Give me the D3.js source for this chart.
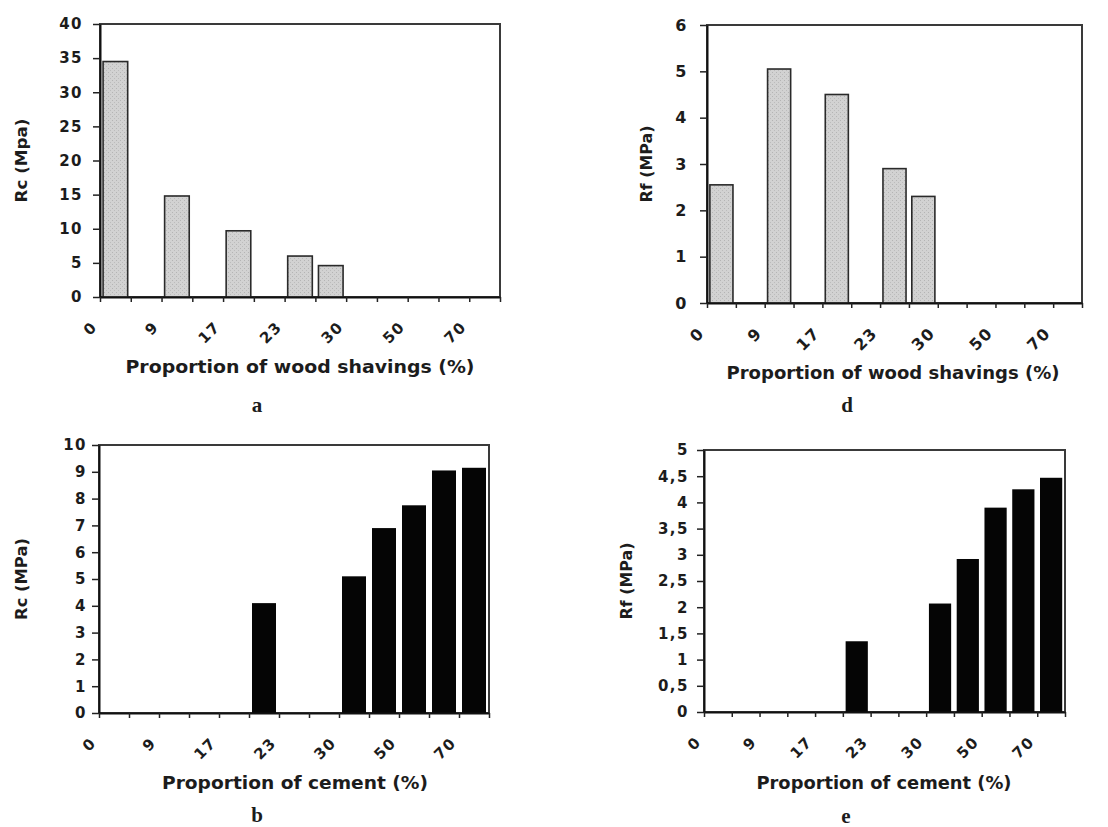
<!DOCTYPE html>
<html>
<head>
<meta charset="utf-8">
<script src="https://cdn.jsdelivr.net/npm/d3@7"></script>
<style>
  body { margin: 0; background: #fff; }
  svg { display: block; }
  .tick text { font-family: "DejaVu Sans", sans-serif; font-weight: bold; fill: #1c1c1c; }
  .title { font-family: "DejaVu Sans", sans-serif; font-weight: bold; fill: #1c1c1c; }
  .letter { font-family: "Liberation Serif", "DejaVu Serif", serif; font-weight: bold; fill: #1c1c1c; }
</style>
</head>
<body>
<svg id="fig" width="1108" height="827"></svg>
<script>
// Category slots along each x axis; a label is printed on every second slot boundary.
const slotCount = 13;
const xTickLabels = ["0", "9", "17", "23", "30", "50", "70"];

// Wood-shavings series (slot index, strength in MPa)
const woodSlots = [0, 2, 4, 6, 7];
const rcWood = [34.5, 14.8, 9.7, 6.0, 4.6];
const rfWood = [2.55, 5.05, 4.5, 2.9, 2.3];

// Cement series (slot index, strength in MPa)
const cementSlots = [5, 8, 9, 10, 11, 12];
const rcCement = [4.1, 5.1, 6.9, 7.75, 9.05, 9.15];
const rfCement = [1.35, 2.07, 2.92, 3.9, 4.25, 4.47];

const yTitles = ["Rc (Mpa)", "Rf (MPa)", "Rc (MPa)", "Rf (MPa)"];
const xTitles = ["Proportion of wood shavings (%)", "Proportion of cement (%)"];
const panelLetters = ["a", "d", "b", "e"];

const svg = d3.select("#fig");
svg.append("rect").attr("width", 1108).attr("height", 827).attr("fill", "#fff");

// light stippled fill for the wood-shavings bars
const defs = svg.append("defs");
const pat = defs.append("pattern").attr("id", "stipple")
  .attr("width", 4).attr("height", 4).attr("patternUnits", "userSpaceOnUse");
pat.append("rect").attr("width", 4).attr("height", 4).attr("fill", "#d2d2d2");
pat.append("rect").attr("x", 0).attr("y", 0).attr("width", 1).attr("height", 1).attr("fill", "#b4b4b4");
pat.append("rect").attr("x", 2).attr("y", 2).attr("width", 1).attr("height", 1).attr("fill", "#bcbcbc");

const commaFmt = v => String(+v.toFixed(1)).replace(".", ",");

const panels = [
  { slots: woodSlots, values: rcWood, yMax: 40, yStep: 5, x0: 100, x1: 500, yt: 24, yb: 297,
    pad: 10, fs: 15, fill: "url(#stipple)", stroke: "#2a2a2a",
    yTitle: yTitles[0], yTitleX: 22, yTitleLen: 84,
    xTitle: xTitles[0], xTitleX: 300, xTitleY: 367, xTitleLen: 349,
    letter: panelLetters[0], lx: 257, ly: 412 },
  { slots: woodSlots, values: rfWood, yMax: 6, yStep: 1, x0: 707, x1: 1082, yt: 25, yb: 303,
    pad: 12, fs: 16, fill: "url(#stipple)", stroke: "#2a2a2a",
    yTitle: yTitles[1], yTitleX: 647, yTitleLen: 77,
    xTitle: xTitles[0], xTitleX: 893, xTitleY: 373, xTitleLen: 333,
    letter: panelLetters[1], lx: 847, ly: 412 },
  { slots: cementSlots, values: rcCement, yMax: 10, yStep: 1, x0: 99, x1: 489, yt: 445, yb: 713,
    pad: 5, fs: 15, fill: "#050505", stroke: "none",
    yTitle: yTitles[2], yTitleX: 22, yTitleLen: 82,
    xTitle: xTitles[1], xTitleX: 295, xTitleY: 783, xTitleLen: 266,
    letter: panelLetters[2], lx: 257, ly: 822 },
  { slots: cementSlots, values: rfCement, yMax: 5, yStep: 0.5, x0: 704, x1: 1065, yt: 450, yb: 712,
    pad: 8, fs: 15, fill: "#050505", stroke: "none", fmt: commaFmt,
    yTitle: yTitles[3], yTitleX: 627, yTitleLen: 77,
    xTitle: xTitles[1], xTitleX: 884, xTitleY: 783, xTitleLen: 255,
    letter: panelLetters[3], lx: 846, ly: 823 }
];

function drawPanel(p) {
  const g = svg.append("g");
  const xEdge = d3.scaleLinear().domain([0, slotCount]).range([p.x0, p.x1]);
  const xBand = d3.scaleBand().domain(d3.range(slotCount)).range([p.x0, p.x1])
    .paddingInner(0.2).paddingOuter(0.1);
  const y = d3.scaleLinear().domain([0, p.yMax]).range([p.yb, p.yt]);

  // plot-area border
  g.append("rect")
    .attr("x", p.x0).attr("y", p.yt)
    .attr("width", p.x1 - p.x0).attr("height", p.yb - p.yt)
    .attr("fill", "none").attr("stroke", "#3a3a3a").attr("stroke-width", 2);

  // bars
  g.append("g").selectAll("rect")
    .data(p.slots.map((s, i) => ({ s, v: p.values[i] })))
    .join("rect")
    .attr("x", d => xBand(d.s))
    .attr("y", d => y(d.v))
    .attr("width", xBand.bandwidth())
    .attr("height", d => y(0) - y(d.v))
    .attr("fill", p.fill)
    .attr("stroke", p.stroke)
    .attr("stroke-width", 1.6);

  // y axis
  const yAxis = d3.axisLeft(y)
    .tickValues(d3.range(0, p.yMax + p.yStep / 2, p.yStep))
    .tickSize(7).tickSizeOuter(0).tickPadding(p.pad)
    .tickFormat(p.fmt || (v => String(v)));
  const ya = g.append("g").attr("transform", `translate(${p.x0},0)`).call(yAxis);
  ya.select(".domain").attr("stroke", "#111").attr("stroke-width", 2);
  ya.selectAll(".tick line").attr("stroke", "#222").attr("stroke-width", 1.5);
  ya.selectAll(".tick text").attr("font-size", p.fs).style("letter-spacing", "1.5px");

  // x axis: ticks on every slot boundary, labels on every second one
  const xAxis = d3.axisBottom(xEdge)
    .tickValues(d3.range(0, slotCount + 1))
    .tickSize(5).tickSizeOuter(0)
    .tickFormat(i => (i % 2 === 0 ? xTickLabels[i / 2] : ""));
  const xa = g.append("g").attr("transform", `translate(0,${p.yb})`).call(xAxis);
  xa.select(".domain").attr("stroke", "#111").attr("stroke-width", 2);
  xa.selectAll(".tick line").attr("stroke", "#222").attr("stroke-width", 1.5);
  xa.selectAll(".tick text")
    .attr("font-size", p.fs).style("letter-spacing", "1.5px")
    .attr("x", 0).attr("y", 0).attr("dy", "0.35em")
    .attr("text-anchor", "end")
    .attr("transform", "translate(-6,27) rotate(-45)");

  // axis titles
  g.append("text").attr("class", "title")
    .attr("transform", `translate(${p.yTitleX},${(p.yt + p.yb) / 2}) rotate(-90)`)
    .attr("text-anchor", "middle").attr("dy", "0.35em")
    .attr("font-size", 15)
    .attr("textLength", p.yTitleLen).attr("lengthAdjust", "spacingAndGlyphs")
    .text(p.yTitle);

  g.append("text").attr("class", "title")
    .attr("x", p.xTitleX).attr("y", p.xTitleY)
    .attr("text-anchor", "middle").attr("dy", "0.35em")
    .attr("font-size", 17)
    .attr("textLength", p.xTitleLen).attr("lengthAdjust", "spacingAndGlyphs")
    .text(p.xTitle);

  // panel letter
  g.append("text").attr("class", "letter")
    .attr("x", p.lx).attr("y", p.ly)
    .attr("text-anchor", "middle")
    .attr("font-size", 21)
    .text(p.letter);
}

panels.forEach(drawPanel);
</script>
</body>
</html>
